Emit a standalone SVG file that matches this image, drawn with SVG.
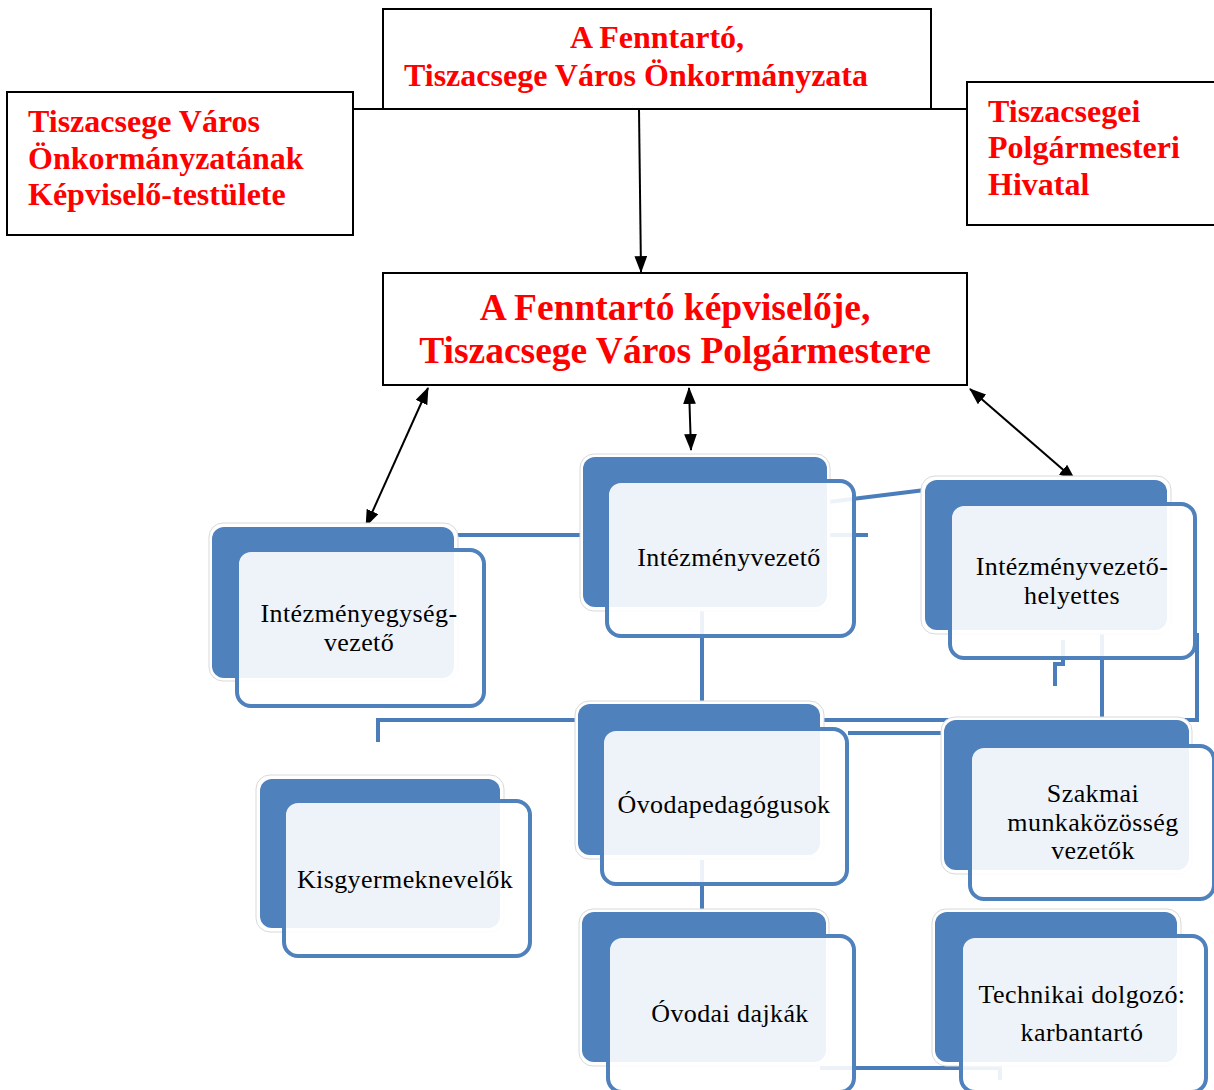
<svg xmlns="http://www.w3.org/2000/svg" width="1214" height="1090" viewBox="0 0 1214 1090">
<defs>
<marker id="ah" viewBox="0 0 16 12" refX="15" refY="6" markerWidth="17" markerHeight="13" markerUnits="userSpaceOnUse" orient="auto-start-reverse">
<path d="M0,0 L16,6 L0,12 Z" fill="#000"/>
</marker>
</defs>
<style>
.box{fill:#fff;stroke:#000;stroke-width:2}
.rt{font-family:"Liberation Serif","Times New Roman",serif;font-weight:bold;fill:#ff0000}
.blk{stroke:#000;stroke-width:2;fill:none}
.con{stroke:#4A7DBA;stroke-width:4;fill:none}
.halo{fill:#fff;stroke:#d9d9d9;stroke-width:1}
.back{fill:#4F81BD}
.front{fill:#fff;fill-opacity:0.9;stroke:#4F81BD;stroke-width:4}
.nt{font-family:"Liberation Serif","Times New Roman",serif;font-size:26px;letter-spacing:0.4px;fill:#000;text-anchor:middle}
</style>
<rect width="1214" height="1090" fill="#fff"/>

<g id="connectors">
<line class="blk" x1="353" y1="109" x2="967" y2="109"/>
<line class="blk" x1="639" y1="110" x2="641" y2="272" marker-end="url(#ah)"/>
<line class="blk" x1="428" y1="388" x2="366" y2="526" marker-start="url(#ah)" marker-end="url(#ah)"/>
<line class="blk" x1="689" y1="388" x2="691" y2="450" marker-start="url(#ah)" marker-end="url(#ah)"/>
<line class="blk" x1="970" y1="389" x2="1075" y2="480" marker-start="url(#ah)" marker-end="url(#ah)"/>
<path class="con" d="M454,535 H868"/>
<path class="con" d="M820,503 L925,490"/>
<path class="con" d="M702,600 V706"/>
<path class="con" d="M378,742 V720 H1197 V633"/>
<path class="con" d="M848,733 H944"/>
<path class="con" d="M1102,620 V720"/>
<path class="con" d="M1063,640 V664 H1055 V686"/>
<path class="con" d="M702,860 V912"/>
<path class="con" d="M820,1068 H1000 V1080"/>
</g>

<g id="n-fenntarto">
<rect class="box" x="383" y="9" width="548" height="100"/>
<text class="rt" font-size="32" text-anchor="middle"><tspan x="657" y="48">A Fenntartó,</tspan><tspan x="636" y="86">Tiszacsege Város Önkormányzata</tspan></text>
</g>
<g id="n-testulet">
<rect class="box" x="7" y="92" width="346" height="143"/>
<text class="rt" font-size="32"><tspan x="28" y="132">Tiszacsege Város</tspan><tspan x="28" y="169">Önkormányzatának</tspan><tspan x="28" y="205">Képviselő-testülete</tspan></text>
</g>
<g id="n-hivatal">
<rect class="box" x="967" y="82" width="252" height="143"/>
<text class="rt" font-size="32"><tspan x="988" y="122">Tiszacsegei</tspan><tspan x="988" y="158">Polgármesteri</tspan><tspan x="988" y="195">Hivatal</tspan></text>
</g>
<g id="n-polgarmester">
<rect class="box" x="383" y="273" width="584" height="112"/>
<text class="rt" font-size="37.5" text-anchor="middle"><tspan x="675" y="320">A Fenntartó képviselője,</tspan><tspan x="675" y="363">Tiszacsege Város Polgármestere</tspan></text>
</g>

<g id="n-egysegvezeto">
<rect class="halo" x="209" y="523" width="249" height="158" rx="14"/>
<rect class="back" x="212" y="527" width="242" height="151" rx="12"/>
<rect class="front" x="237" y="550" width="247" height="156" rx="14"/>
<text class="nt"><tspan x="359" y="622">Intézményegység-</tspan><tspan x="359" y="651">vezető</tspan></text>
</g>
<g id="n-intezmenyvezeto">
<rect class="halo" x="580" y="454" width="250" height="157" rx="14"/>
<rect class="back" x="583" y="457" width="244" height="150" rx="12"/>
<rect class="front" x="607" y="481" width="247" height="155" rx="14"/>
<text class="nt" x="729" y="566">Intézményvezető</text>
</g>
<g id="n-helyettes">
<rect class="halo" x="921" y="476" width="250" height="158" rx="14"/>
<rect class="back" x="925" y="480" width="242" height="150" rx="12"/>
<rect class="front" x="950" y="504" width="245" height="154" rx="14"/>
<text class="nt"><tspan x="1072" y="575">Intézményvezető-</tspan><tspan x="1072" y="604">helyettes</tspan></text>
</g>
<g id="n-ovodapedagogusok">
<rect class="halo" x="575" y="701" width="249" height="158" rx="14"/>
<rect class="back" x="578" y="704" width="242" height="151" rx="12"/>
<rect class="front" x="602" y="729" width="245" height="155" rx="14"/>
<text class="nt" x="724" y="813">Óvodapedagógusok</text>
</g>
<g id="n-szakmai">
<rect class="halo" x="941" y="717" width="251" height="157" rx="14"/>
<rect class="back" x="944" y="720" width="245" height="150" rx="12"/>
<rect class="front" x="970" y="746" width="244" height="153" rx="14"/>
<text class="nt"><tspan x="1093" y="802">Szakmai</tspan><tspan x="1093" y="831">munkaközösség</tspan><tspan x="1093" y="859">vezetők</tspan></text>
</g>
<g id="n-kisgyermeknevelok">
<rect class="halo" x="256" y="775" width="248" height="157" rx="14"/>
<rect class="back" x="260" y="779" width="240" height="149" rx="12"/>
<rect class="front" x="284" y="801" width="246" height="155" rx="14"/>
<text class="nt" x="405" y="888">Kisgyermeknevelők</text>
</g>
<g id="n-dajkak">
<rect class="halo" x="579" y="909" width="250" height="157" rx="14"/>
<rect class="back" x="582" y="912" width="244" height="150" rx="12"/>
<rect class="front" x="608" y="936" width="246" height="156" rx="14"/>
<text class="nt" x="730" y="1022">Óvodai dajkák</text>
</g>
<g id="n-technikai">
<rect class="halo" x="932" y="909" width="249" height="157" rx="14"/>
<rect class="back" x="935" y="912" width="242" height="150" rx="12"/>
<rect class="front" x="961" y="936" width="245" height="156" rx="14"/>
<text class="nt"><tspan x="1082" y="1003">Technikai dolgozó:</tspan><tspan x="1082" y="1041">karbantartó</tspan></text>
</g>
</svg>
